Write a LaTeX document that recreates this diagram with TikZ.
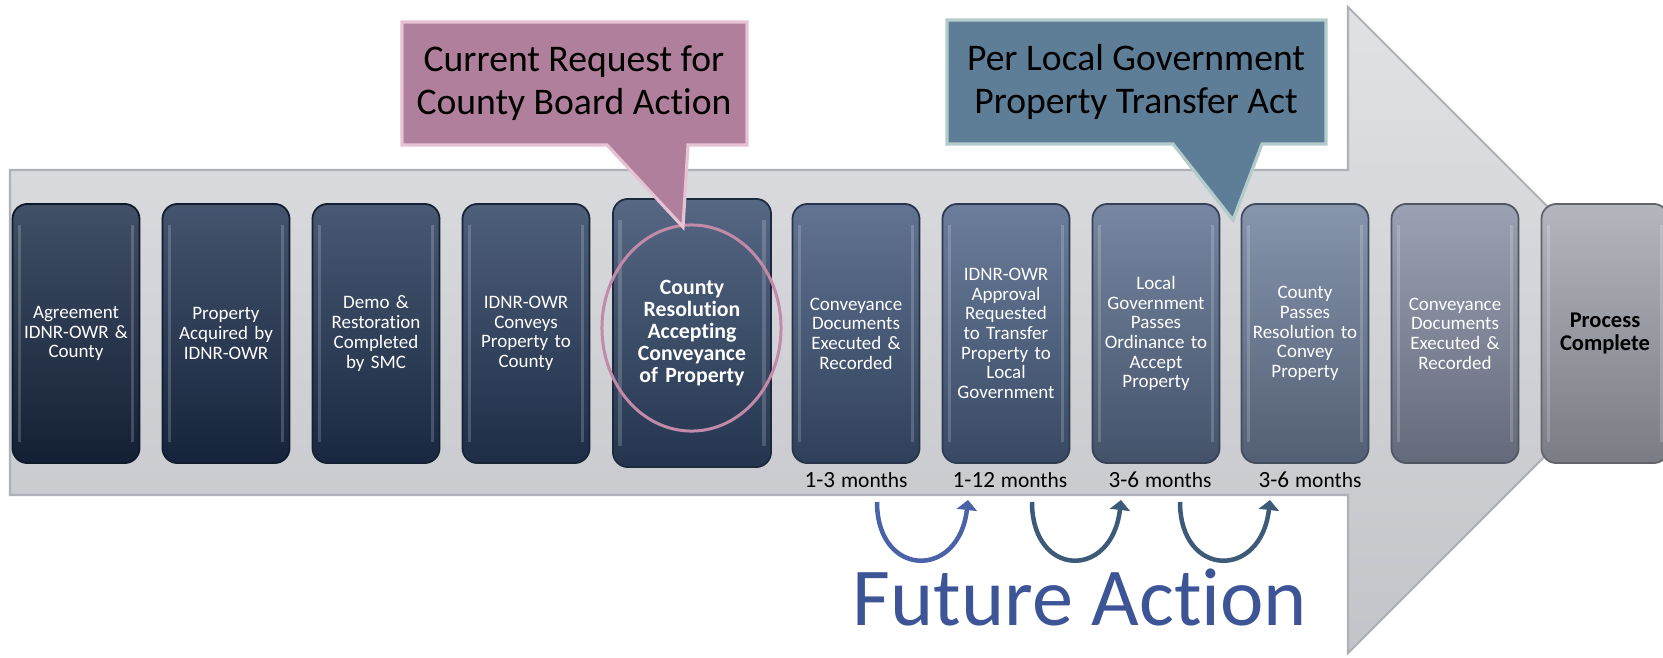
\documentclass[tikz,border=0pt]{standalone}
\usepackage{fontspec}
\setmainfont{Carlito}[Ligatures=NoCommon]
\usetikzlibrary{arrows.meta,shapes.geometric}

\definecolor{tone1}{HTML}{182946}
\definecolor{tone2}{HTML}{1C2F4E}
\definecolor{tone3}{HTML}{213555}
\definecolor{tone4}{HTML}{273C5D}
\definecolor{tone5}{HTML}{304668}
\definecolor{tone6}{HTML}{3F557A}
\definecolor{tone7}{HTML}{4B6185}
\definecolor{tone8}{HTML}{5A6D8D}
\definecolor{tone9}{HTML}{6D7E9B}
\definecolor{tone10}{HTML}{858DA3}
\definecolor{tone11}{HTML}{A3A6B0}
\definecolor{trackfill}{HTML}{D3D5DA}
\definecolor{trackedge}{HTML}{AEB1B8}
\definecolor{pinkfill}{HTML}{B07F9B}
\definecolor{pinkedge}{HTML}{E6C2D4}
\definecolor{ringpink}{HTML}{C28AA8}
\definecolor{bluefill}{HTML}{5E7E98}
\definecolor{blueedge}{HTML}{B3CBCB}
\definecolor{futureblue}{HTML}{3D5596}
\definecolor{loopblue}{HTML}{4A62A8}
\definecolor{loopteal}{HTML}{3D5B78}

\newcommand\boxfont{\fontsize{5.4}{5.6}\selectfont}
\newcommand\keyfont{\fontsize{6.2}{6.3}\selectfont\bfseries}
\newcommand\callfont{\fontsize{10.7}{12.2}\selectfont}

\tikzset{
  stepbox/.style={rounded corners=.15cm, inner sep=0pt, minimum width=1.27cm,
    minimum height=2.59cm, text width=1.2cm, align=center, font=\boxfont,
    text=white, top color=#1!82!white, bottom color=#1!75!black,
    draw=#1!60!black, line width=.5pt,
    path picture={\draw[white,opacity=.18,line width=.9pt]
      ([xshift=2pt,yshift=-6pt]path picture bounding box.north west) --
      ([xshift=2pt,yshift=6pt]path picture bounding box.south west)
      ([xshift=-2pt,yshift=-6pt]path picture bounding box.north east) --
      ([xshift=-2pt,yshift=6pt]path picture bounding box.south east);}},
  callout/.style={line width=.9pt, line join=miter},
  calltext/.style={font=\callfont, align=center, text=black},
  span/.style={anchor=base, text=black},
  loopy/.style={line width=.045cm, -{Triangle[length=.1cm,width=.2cm]}}
}

\begin{document}
\begin{tikzpicture}[x=0.01cm,y=-0.01cm]
\useasboundingbox (0,0) rectangle (1663,657);
\fill[white] (0,0) rectangle (1663,657);

\draw[top color=trackfill!70!white, bottom color=trackfill!92!black, draw=trackedge, line width=.6pt]
  (10,170) -- (1348,170) -- (1348,7) -- (1671,330) -- (1348,653) -- (1348,495) -- (10,495) -- cycle;

\node[stepbox=tone1] (s1) at (76,333.5) {Agreement\\IDNR-OWR \&\\County};
\node[stepbox=tone2] (s2) at (226,333.5) {Property\\Acquired by\\IDNR-OWR};
\node[stepbox=tone3] (s3) at (376,333.5) {Demo \&\\Restoration\\Completed\\by SMC};
\node[stepbox=tone4] (s4) at (526,333.5) {IDNR-OWR\\Conveys\\Property to\\County};
\node[stepbox=tone5, minimum width=1.58cm, minimum height=2.68cm, text width=1.5cm, font=\keyfont] (s5) at (692,333) {County\\Resolution\\Accepting\\Conveyance\\of Property};
\node[stepbox=tone6] (s6) at (856,333.5) {Conveyance\\Documents\\Executed \&\\Recorded};
\node[stepbox=tone7] (s7) at (1006,333.5) {IDNR-OWR\\Approval\\Requested\\to Transfer\\Property to\\Local\\Government};
\node[stepbox=tone8] (s8) at (1156,333.5) {Local\\Government\\Passes\\Ordinance to\\Accept\\Property};
\node[stepbox=tone9] (s9) at (1305,333.5) {County\\Passes\\Resolution to\\Convey\\Property};
\node[stepbox=tone10] (s10) at (1455,333.5) {Conveyance\\Documents\\Executed \&\\Recorded};
\node[stepbox=tone11, text=black, font=\fontsize{6.4}{6.6}\selectfont\bfseries] (s11) at (1605,333.5) {Process\\Complete};

\node[ellipse, draw=ringpink, line width=.03cm, inner sep=0pt, minimum width=1.79cm, minimum height=2.06cm] (ring) at (691.5,328) {};

\draw[callout, draw=pinkedge, fill=pinkfill]
  (402,22) -- (747,22) -- (747,145) -- (688,145) -- (683,227) -- (607,145) -- (402,145) -- cycle;
\node[calltext] (askA) at (574,83) {Current Request for\\County Board Action};
\draw[callout, draw=blueedge, fill=bluefill]
  (947,20) -- (1326,20) -- (1326,144) -- (1262,144) -- (1233,220) -- (1173,144) -- (947,144) -- cycle;
\node[calltext] (askB) at (1136,82) {Per Local Government\\Property Transfer Act};

\node[span] (m1) at (856,487) {{\fontsize{6.6}{7}\selectfont 1-3}\,{\fontsize{6.1}{7}\selectfont months}};
\node[span] (m2) at (1010,487) {{\fontsize{6.6}{7}\selectfont 1-12}\,{\fontsize{6.1}{7}\selectfont months}};
\node[span] (m3) at (1160,487) {{\fontsize{6.6}{7}\selectfont 3-6}\,{\fontsize{6.1}{7}\selectfont months}};
\node[span] (m4) at (1310,487) {{\fontsize{6.6}{7}\selectfont 3-6}\,{\fontsize{6.1}{7}\selectfont months}};

\coordinate (u1a) at (877,502);
\coordinate (u1b) at (968,500);
\coordinate (u2a) at (1032,502);
\coordinate (u2b) at (1121,500);
\coordinate (u3a) at (1180,502);
\coordinate (u3b) at (1270,500);
\draw[loopy, loopblue] (u1a) .. controls +(0,76) and +(-9,80) .. (u1b);
\draw[loopy, loopteal] (u2a) .. controls +(0,76) and +(-9,80) .. (u2b);
\draw[loopy, loopteal] (u3a) .. controls +(0,76) and +(-9,80) .. (u3b);

\node[anchor=base, text=futureblue, font=\fontsize{23.4}{24}\selectfont] (later) at (1080,625) {Future Action};
\end{tikzpicture}
\end{document}
